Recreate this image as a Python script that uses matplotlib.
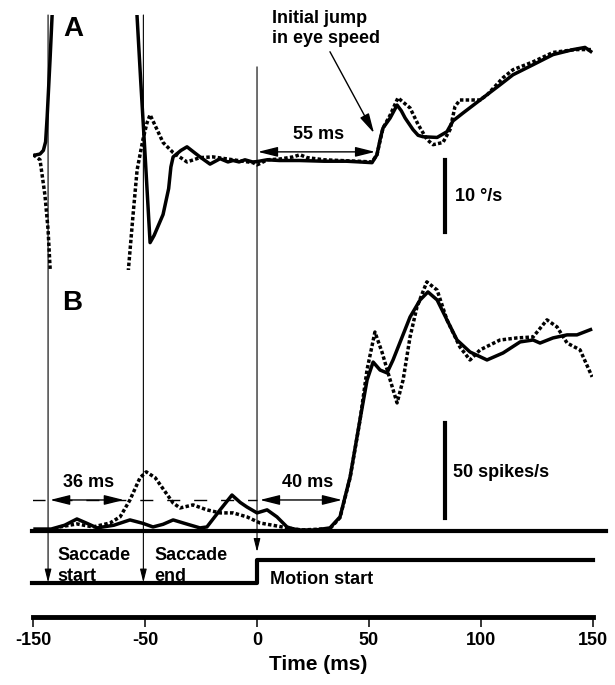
import matplotlib
matplotlib.use("Agg")
import matplotlib.pyplot as plt
from matplotlib.patches import ConnectionPatch

plt.rcParams['font.family'] = ['Liberation Sans', 'DejaVu Sans']
plt.rcParams['font.weight'] = 'bold'
plt.rcParams['font.size'] = 13

# --- A: eye speed (deg/s), solid and dotted condition ---
eye_t_solid = [-100, -97, -95.5, -94.5, -93.8, -92.5, -91.3, -85, -70, -60,
               -54, -52, -50, -47.8, -46, -42, -39.5, -38.5, -37.5, -34,
               -31.3, -28, -25.5, -21, -16.5, -13, -10.7, -8, -5.4, -2,
               0, 4.5, 10, 19, 30, 40, 46, 51.4, 53.6, 55,
               56.3, 59.5, 62.6, 64.5, 66.2, 69.7, 72, 74.2, 80.5, 84.9,
               87.6, 92.1, 99.7, 108.6, 114.4, 123.4, 132.3, 141.3, 146.6, 149.8]
eye_v_solid = [0.6, 0.8, 1.3, 2.5, 6, 14, 22, 60, 80, 60,
               22, 11, 0.5, -11.5, -10.5, -7.6, -4, -1, 0.4, 1.3,
               1.8, 1.0, 0.4, -0.6, 0.15, -0.3, -0.1, -0.3, 0.0, -0.3,
               -0.25, 0.0, -0.1, -0.1, -0.2, -0.2, -0.3, -0.4, 0.7, 2.8,
               4.4, 5.8, 7.6, 6.8, 5.8, 4.2, 3.4, 3.2, 3.1, 3.9,
               5.4, 6.5, 8.3, 10.4, 11.8, 13.2, 14.6, 15.3, 15.6, 14.9]

eye_t_dot = [-100, -97, -94.8, -93.4, -92.5, -88, -75, -62, -57.7, -55.4,
             -53.6, -51.0, -49.2, -47.8, -44.7, -42.0, -37.5, -31.3, -25.5, -19.7,
             -10.7, -1.8, 0, 1.5, 4.5, 10, 16.1, 19.2, 22.4, 30,
             37.1, 45, 51.4, 53.6, 56.3, 59.5, 63.0, 68.4, 72.0, 76.0,
             78.7, 83.1, 86.3, 88.5, 90.7, 99.7, 102.8, 110.0, 114.4, 123.4,
             132.3, 142.2, 149.8]
eye_v_dot = [0.7, 0.0, -4.9, -9.7, -15, -40, -60, -40, -16, -7.6,
             -1.4, 2.8, 5.1, 6.25, 4.2, 2.4, 1.0, -0.3, 0.3, 0.4,
             0.0, -0.4, -0.7, -0.5, 0.0, 0.1, 0.4, 0.7, 0.3, 0.0,
             -0.1, -0.2, -0.3, 0.7, 4.4, 6.2, 8.6, 7.2, 4.9, 2.8,
             2.1, 2.4, 4.2, 7.4, 8.3, 8.3, 9.0, 11.4, 12.5, 13.6,
             14.9, 15.3, 15.3]

# --- B: firing rate (spikes/s) ---
fr_t_solid = [-100, -92, -86, -80.5, -76, -71.5, -64, -56.8, -51, -46.5,
              -42, -37.5, -31, -25.5, -22.4, -16.5, -11.2, -7.5, -4.5, 0,
              4.5, 8.9, 13.4, 16.1, 19.2, 26, 32.6, 37.1, 41.6, 46.0,
              49.2, 51.9, 55.0, 58.1, 60.8, 64.5, 68.4, 72.9, 76.4, 80.5,
              84.9, 89.4, 95.2, 102.8, 110.0, 117.6, 123.4, 126.5, 132.3, 138.6,
              143.0, 149.8]
fr_solid = [1, 1, 3, 6.3, 4, 1.6, 3, 5.8, 4, 2.1,
            3.5, 5.8, 3.5, 1.6, 2.1, 11.1, 18.9, 15, 12.6, 9.5,
            11.1, 7.4, 2.1, 1.1, 0.5, 0.5, 1.6, 7.4, 28.4, 58.4,
            79.5, 88.9, 84.7, 83.2, 90.0, 101, 112.6, 121.6, 125.8, 121.6,
            111.1, 100.5, 94.2, 90.0, 93.7, 99.5, 100.5, 98.9, 101.6, 103.2,
            103.2, 106.3]

fr_t_dot = [-90.3, -88.1, -80.5, -73.3, -65.7, -61.2, -56.8, -52.3, -49.5, -45.5,
            -37.5, -34.4, -28.6, -22.4, -16.5, -10.7, -4.5, 1.3, 8.9, 13.4,
            20, 32.6, 37.1, 41.6, 46.0, 49.2, 52.7, 55.9, 59.5, 62.6,
            65.3, 68.4, 71.5, 75.9, 80.5, 84.9, 90.7, 95.2, 99.7, 108.6,
            116.2, 123.4, 129.6, 134.1, 138.6, 144.4, 149.8]
fr_dot = [0, 2.1, 3.7, 2.1, 4.2, 7.4, 16.3, 28, 31.1, 28,
          14.7, 12.1, 13.7, 11.1, 9.5, 9.5, 7.4, 4.2, 2.6, 1.6,
          0.5, 1.2, 7, 28, 58, 85, 104.7, 94, 79.5, 67.4,
          79.5, 102.1, 117.9, 131.1, 126.8, 111.1, 96.8, 90.0, 95.3, 100.5,
          101.6, 102.1, 111.1, 107.4, 98.9, 95.3, 81.1]

# --- stimulus motion trace ---
stim_t = [-100.5, 0, 0, 150.2]
stim_v = [0, 0, 1, 1]

# event markers (ms)
event_labels = ['Saccade\nstart', 'Saccade\nend', 'Motion start']
event_t = [-93.4, -50.8, 0.0]

tick_pos = [-100, -50, 0, 50, 100, 150]
tick_labels = ['-150', '-50', '0', '50', '100', '150']

# --- layout (pixel boxes of the 615x685 picture) ---
W, H = 615, 685
X0, X1 = 33.3, 592.6


def box(top, bottom):
    return [X0 / W, 1 - bottom / H, (X1 - X0) / W, (bottom - top) / H]


fig = plt.figure(figsize=(6.15, 6.85), dpi=100)
axA = fig.add_axes(box(15, 270))
axB = fig.add_axes(box(272, 545))
axS = fig.add_axes(box(540, 617))
for ax in (axA, axB, axS):
    ax.set_xlim(-100, 150)
    ax.patch.set_visible(False)
axA.set_ylim(-15.3, 20.1)
axB.set_ylim(-7.4, 136.3)
axS.set_ylim(-1.5, 1.85)
axA.axis('off')
axB.axis('off')

dot = dict(color='black', lw=2.5, linestyle=(0, (1, 0.65)), dash_capstyle='butt')
sol = dict(color='black', lw=2.5, solid_capstyle='butt', solid_joinstyle='round')
arr2 = dict(arrowstyle='<|-|>,head_length=0.6,head_width=0.15',
            mutation_scale=20, lw=1, color='black', shrinkA=0, shrinkB=0)

# A
axA.plot(eye_t_dot, eye_v_dot, **dot)
axA.plot(eye_t_solid, eye_v_solid, **sol)
axA.plot([84, 84], [0, -10], color='black', lw=3)
axA.text(88.5, -5.1, '10 °/s', va='center', ha='left')
axA.text(-82.3, 18.2, 'A', fontsize=20, ha='center', va='center')
axA.annotate('', xy=(0.4, 1.1), xytext=(52.8, 1.1), arrowprops=arr2)
axA.text(27.3, 3.5, '55 ms', ha='center', va='center')
axA.annotate('', xy=(52.3, 3.7), xytext=(32.6, 15.0),
             arrowprops=dict(arrowstyle='-|>,head_length=0.6,head_width=0.15',
                             mutation_scale=20, lw=1, color='black',
                             shrinkA=0, shrinkB=0))
axA.text(6.7, 18.2, 'Initial jump\nin eye speed', ha='left', va='center',
         linespacing=1.25, clip_on=False)

# B
axB.plot([-100.6, 156], [0, 0], color='black', lw=3, clip_on=False)
axB.plot(fr_t_dot, fr_dot, **dot)
axB.plot(fr_t_solid, fr_solid, **sol)
axB.plot([84, 84], [7, 57], color='black', lw=3)
axB.text(87.6, 30.5, '50 spikes/s', va='center', ha='left')
axB.text(-82.7, 120, 'B', fontsize=20, ha='center', va='center')
axB.plot([-100.5, 0], [16.3, 16.3], color='black', lw=1, linestyle=(0, (9.4, 10)))
for a, b, lab, tx in [(-92.5, -59.5, '36 ms', -75.5), (1.3, 38.0, '40 ms', 22.8)]:
    axB.annotate('', xy=(a, 16.3), xytext=(b, 16.3), arrowprops=arr2)
    axB.text(tx, 25.3, lab, ha='center', va='center')

# stimulus + time axis
axS.plot(stim_t, stim_v, color='black', lw=3, clip_on=False)
for s in ('top', 'right', 'left'):
    axS.spines[s].set_visible(False)
axS.spines['bottom'].set_linewidth(3.5)
axS.set_yticks([])
axS.set_xticks(tick_pos)
axS.set_xticklabels(tick_labels, fontsize=13, fontweight='bold')
axS.tick_params(axis='x', direction='out', length=7, width=1.1, pad=4)
axS.set_xlabel('Time (ms)', fontsize=15, fontweight='bold', va='center')
axS.xaxis.set_label_coords(0.509, -0.623)

axS.text(-89.4, 0.70, event_labels[0], ha='left', va='center', linespacing=1.3)
axS.text(-46.0, 0.70, event_labels[1], ha='left', va='center', linespacing=1.3)
axS.text(5.8, 0.15, event_labels[2], ha='left', va='center')

# event lines running from panel A down to the stimulus trace
starts = [20.1, 20.1, 12.9]
tips = [0.0, 0.0, 1.33]
for t, y0, y1 in zip(event_t, starts, tips):
    con = ConnectionPatch(xyA=(t, y0), coordsA=axA.transData,
                          xyB=(t, y1), coordsB=axS.transData,
                          arrowstyle='-|>,head_length=0.4,head_width=0.1',
                          mutation_scale=20, lw=0.8, color='black',
                          shrinkA=0, shrinkB=0)
    fig.add_artist(con)

fig.savefig('out.png', dpi=100)
